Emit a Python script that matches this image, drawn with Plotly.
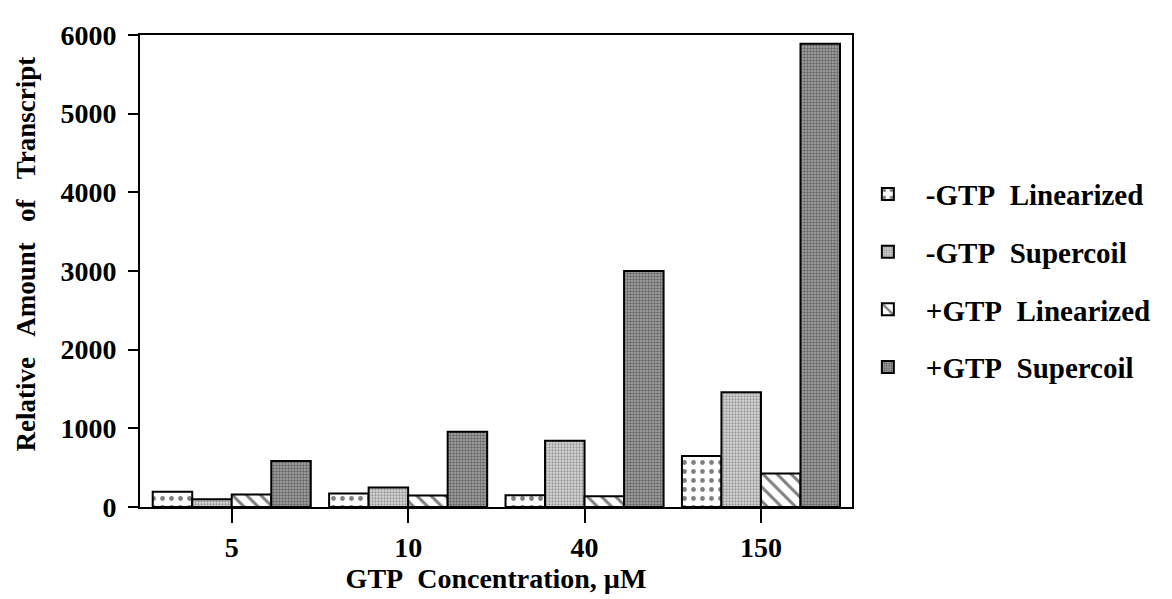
import plotly.graph_objects as go

categories = ["5", "10", "40", "150"]
minus_lin = [193, 172, 150, 647]
minus_sc = [100, 248, 842, 1460]
plus_lin = [158, 145, 138, 425]
plus_sc = [586, 957, 3000, 5890]
y_ticks = [0, 1000, 2000, 3000, 4000, 5000, 6000]

NB = "\u00a0"
series = [
    ("-GTP" + NB * 2 + "Linearized", minus_lin,
     dict(shape=".", fgcolor="black", bgcolor="white", size=9, solidity=0.22)),
    ("-GTP" + NB * 2 + "Supercoil", minus_sc,
     dict(shape=".", fgcolor="#555555", bgcolor="#d8d8d8", size=3, solidity=0.45)),
    ("+GTP" + NB * 2 + "Linearized", plus_lin,
     dict(shape="\\", fgcolor="black", bgcolor="white", size=10, solidity=0.3)),
    ("+GTP" + NB * 2 + "Supercoil", plus_sc,
     dict(shape=".", fgcolor="#222222", bgcolor="#a8a8a8", size=3, solidity=0.5)),
]

fig = go.Figure()
for i, (name, vals, pat) in enumerate(series):
    fig.add_trace(go.Bar(
        x=categories, y=vals, name=name, legendgroup=str(i),
        marker=dict(color=pat["bgcolor"], line=dict(color="black", width=2),
                    pattern=pat),
    ))

font_fam = "Liberation Serif"
fig.update_layout(
    width=1172, height=599,
    margin=dict(l=132, r=328, t=15, b=100),
    paper_bgcolor="white", plot_bgcolor="white",
    barmode="group", bargap=0.104, bargroupgap=0,
    font=dict(family=font_fam, color="black", size=22, weight="bold"),
    legend=dict(x=0.997, y=0.717, xanchor="left", yanchor="top",
                font=dict(family=font_fam, size=29, weight="bold"),
                traceorder="grouped", tracegroupgap=17, itemwidth=66,
                bgcolor="rgba(0,0,0,0)"),
    showlegend=True,
)
fig.update_xaxes(
    type="category", range=[-0.52, 3.516],
    showline=True, linecolor="black", linewidth=2, mirror=True,
    ticks="outside", ticklen=14, tickwidth=2, tickcolor="black",
    tickfont=dict(family=font_fam, size=28, weight="bold"),
    showgrid=False, zeroline=False,
    title=dict(text="GTP" + NB * 2 + "Concentration," + NB + "\u00b5M",
               font=dict(family=font_fam, size=28, weight="bold"), standoff=5),
)
fig.update_yaxes(
    range=[0, 6000], tickvals=y_ticks,
    showline=True, linecolor="black", linewidth=2, mirror=True,
    ticks="outside", ticklen=10, tickwidth=2, tickcolor="black",
    tickfont=dict(family=font_fam, size=28, weight="bold"),
    ticklabeloverflow="allow", ticklabelstandoff=6,
    showgrid=False, zeroline=False,
)
fig.add_annotation(
    text="Relative" + NB * 3 + "Amount" + NB * 3 + "of" + NB * 3 + "Transcript",
    textangle=-90, xref="paper", yref="paper",
    x=(25 - 139) / 712, y=(507 - 248) / 484, xanchor="center", yanchor="middle",
    showarrow=False, font=dict(family=font_fam, size=27, weight="bold"),
)

fig.write_html("out.html")
